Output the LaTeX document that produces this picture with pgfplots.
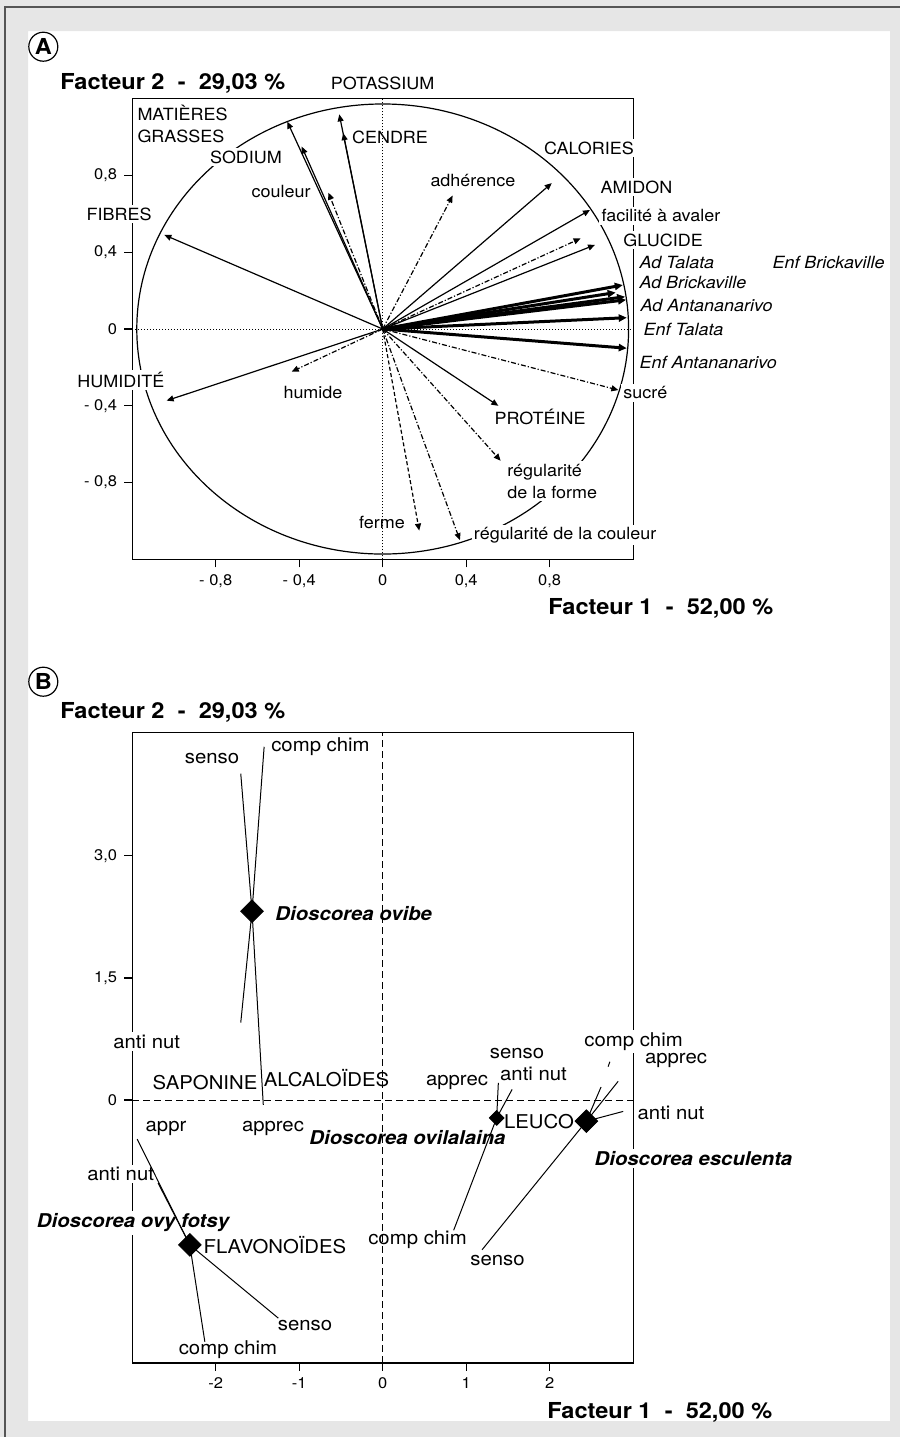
\documentclass[border=0pt]{standalone}
\usepackage{fontspec}
\setmainfont{TeX Gyre Heros}[FakeStretch=1.07]
\usepackage{pgfplots}
\pgfplotsset{compat=1.18}
\usetikzlibrary{arrows.meta}
\definecolor{bg}{HTML}{E6E6E6}
\definecolor{frame}{HTML}{555555}
\tikzset{
  labA/.style={fill=white, inner sep=1.2pt, font=\fontsize{8.4}{11}\selectfont},
  labAi/.style={labA, font=\fontsize{8.4}{11}\selectfont\itshape},
  labB/.style={fill=white, inner sep=1.2pt, font=\fontsize{9.5}{11}\selectfont},
  labBb/.style={labB, font=\fontsize{9.5}{11}\selectfont\bfseries\itshape},
  thinarr/.style={line width=0.6pt, -{Triangle[length=3.5pt,width=3pt]}},
  thickarr/.style={line width=1.5pt, -{Triangle[length=4pt,width=3.6pt]}},
  ddot/.style={thinarr, dash pattern=on 2.5pt off 1pt on 0.6pt off 1pt},
  dsh/.style={thinarr, dash pattern=on 2pt off 1.2pt},
  ttl/.style={font=\fontsize{11}{12}\selectfont\bfseries, inner sep=0pt},
}
\begin{document}
\begin{tikzpicture}
\begin{scope}[x=0.5pt,y=-0.5pt]
  \fill[bg, even odd rule] (0,0) rectangle (900,1437) (28,31) rectangle (890,1421);
  \draw[draw=frame, line width=0.8pt] (5,1437) -- (5,7) -- (900,7);
\end{scope}

% ================= Panel A =================
\begin{axis}[
  at={(66.1pt,-279.7pt)}, anchor=south west,
  scale only axis, width=250.5pt, height=230.4pt,
  xmin=-1.2, xmax=1.2, ymin=-1.2, ymax=1.2,
  set layers, clip=false,
  tick pos=left, tick align=outside, major tick length=4pt,
  axis line style={line width=0.6pt},
  every tick/.style={black, line width=0.6pt},
  xtick={-0.8,-0.4,0,0.4,0.8},
  xticklabels={{\mbox{- 0,8}},{\mbox{- 0,4}},{\mbox{0}},{\mbox{0,4}},{\mbox{0,8}}},
  ytick={-0.8,-0.4,0,0.4,0.8},
  yticklabels={{\mbox{- 0,8}},{\mbox{- 0,4}},{\mbox{0}},{\mbox{0,4}},{\mbox{0,8}}},
  tick label style={font=\fontsize{7.7}{9}\selectfont},
]
\begin{pgfonlayer}{axis grid}
  \draw[line width=0.6pt] (axis cs:0,0) ellipse [x radius=1.178, y radius=1.172];
\end{pgfonlayer}
% zero lines
\addplot[densely dotted, line width=0.5pt] coordinates {(-1.2,0) (1.2,0)};
\addplot[densely dotted, line width=0.5pt] coordinates {(0,-1.2) (0,1.2)};
% solid variables
\addplot[thinarr] coordinates {(0,0) (-1.046,0.490)};   % FIBRES
\addplot[thinarr] coordinates {(0,0) (-0.457,1.080)};   % MATIERES GRASSES
\addplot[thinarr] coordinates {(0,0) (-0.388,0.950)};   % SODIUM
\addplot[thinarr] coordinates {(0,0) (-0.189,1.020)};   % CENDRE
\addplot[thinarr] coordinates {(0,0) (-0.208,1.118)};   % POTASSIUM
\addplot[thinarr] coordinates {(0,0) (0.810,0.760)};    % CALORIES
\addplot[thinarr] coordinates {(0,0) (0.993,0.620)};    % AMIDON
\addplot[thinarr] coordinates {(0,0) (1.017,0.438)};    % GLUCIDE
\addplot[thinarr] coordinates {(0,0) (0.554,-0.400)};   % PROTEINE
\addplot[thinarr] coordinates {(0,0) (-1.035,-0.373)};  % HUMIDITE
% sensory variables
\addplot[ddot] coordinates {(0,0) (-0.260,0.710)};   % couleur
\addplot[ddot] coordinates {(0,0) (0.335,0.695)};    % adherence
\addplot[ddot] coordinates {(0,0) (0.948,0.472)};    % facilite a avaler
\addplot[ddot] coordinates {(0,0) (1.129,-0.318)};   % sucre
\addplot[ddot] coordinates {(0,0) (0.565,-0.686)};   % regularite de la forme
\addplot[ddot] coordinates {(0,0) (-0.436,-0.222)};  % humide
\addplot[dsh] coordinates {(0,0) (0.175,-1.050)};    % ferme
\addplot[ddot] coordinates {(0,0) (0.370,-1.100)};   % regularite de la couleur
% consumer groups
\addplot[thickarr] coordinates {(0,0) (1.150,0.229)};
\addplot[thickarr] coordinates {(0,0) (1.116,0.190)};
\addplot[thickarr] coordinates {(0,0) (1.161,0.168)};
\addplot[thickarr] coordinates {(0,0) (1.166,0.152)};
\addplot[thickarr] coordinates {(0,0) (1.169,0.059)};
\addplot[thickarr] coordinates {(0,0) (1.169,-0.100)};
\begin{pgfonlayer}{axis tick labels}
  \node[labA] at (axis cs:0,1.281) {POTASSIUM};
  \node[labA, anchor=west, align=left] at (axis cs:-1.188,1.068) {MATIÈRES\\GRASSES};
  \node[labA] at (axis cs:-0.655,0.896) {SODIUM};
  \node[labA] at (axis cs:0.035,1.0) {CENDRE};
  \node[labA] at (axis cs:-0.487,0.714) {couleur};
  \node[labA] at (axis cs:-1.263,0.599) {FIBRES};
  \node[labA] at (axis cs:0.432,0.771) {adhérence};
  \node[labA, anchor=west] at (axis cs:0.760,0.943) {CALORIES};
  \node[labA, anchor=west] at (axis cs:1.030,0.740) {AMIDON};
  \node[labA, anchor=west] at (axis cs:1.035,0.589) {facilité à avaler};
  \node[labA, anchor=west] at (axis cs:1.140,0.464) {GLUCIDE};
  \node[labAi, anchor=west] at (axis cs:1.217,0.349) {Ad Talata};
  \node[labAi, anchor=west] at (axis cs:1.854,0.349) {Enf Brickaville};
  \node[labAi, anchor=west] at (axis cs:1.217,0.240) {Ad Brickaville};
  \node[labAi, anchor=west] at (axis cs:1.222,0.125) {Ad Antananarivo};
  \node[labAi, anchor=west] at (axis cs:1.236,-0.005) {Enf Talata};
  \node[labAi, anchor=west] at (axis cs:1.217,-0.172) {Enf Antananarivo};
  \node[labA, anchor=west] at (axis cs:1.140,-0.333) {sucré};
  \node[labA] at (axis cs:0.754,-0.458) {PROTÉINE};
  \node[labA, anchor=west, align=left] at (axis cs:0.584,-0.792) {régularité\\de la forme};
  \node[labA] at (axis cs:0.874,-1.073) {régularité de la couleur};
  \node[labA] at (axis cs:-0.003,-1.010) {ferme};
  \node[labA] at (axis cs:-0.334,-0.333) {humide};
  \node[labA] at (axis cs:-1.254,-0.266) {HUMIDITÉ};
\end{pgfonlayer}
\end{axis}

% ================= Panel B =================
\begin{axis}[
  at={(66.1pt,-681.45pt)}, anchor=south west,
  scale only axis, width=250.5pt, height=315.4pt,
  xmin=-3, xmax=3, ymin=-3.23, ymax=4.52,
  set layers, clip=false,
  tick pos=left, tick align=outside, major tick length=4pt,
  axis line style={line width=0.6pt},
  every tick/.style={black, line width=0.6pt},
  xtick={-2,-1,0,1,2},
  xticklabels={{\mbox{-2}},{\mbox{-1}},{\mbox{0}},{\mbox{1}},{\mbox{2}}},
  ytick={0,1.5,3},
  yticklabels={{\mbox{0}},{\mbox{1,5}},{\mbox{3,0}}},
  tick label style={font=\fontsize{7.7}{9}\selectfont},
]
\addplot[line width=0.5pt, dash pattern=on 3.5pt off 2pt] coordinates {(-3,0) (3,0)};
\addplot[line width=0.5pt, dash pattern=on 3.5pt off 2pt] coordinates {(0,-3.23) (0,4.52)};
% Dioscorea ovibe
\addplot[line width=0.5pt] coordinates {(-1.565,2.32) (-1.70,4.01)};
\addplot[line width=0.5pt] coordinates {(-1.565,2.32) (-1.42,4.34)};
\addplot[line width=0.5pt] coordinates {(-1.565,2.32) (-1.70,0.95)};
\addplot[line width=0.5pt] coordinates {(-1.565,2.32) (-1.43,-0.06)};
% Dioscorea ovy fotsy
\addplot[line width=0.5pt] coordinates {(-2.31,-1.78) (-2.94,-0.48)};
\addplot[line width=0.5pt] coordinates {(-2.31,-1.78) (-2.69,-1.02)};
\addplot[line width=0.5pt] coordinates {(-2.31,-1.78) (-1.25,-2.68)};
\addplot[line width=0.5pt] coordinates {(-2.31,-1.78) (-2.13,-2.97)};
% Dioscorea ovilalaina
\addplot[line width=0.5pt] coordinates {(1.365,-0.22) (1.385,0.21)};
\addplot[line width=0.5pt] coordinates {(1.365,-0.22) (1.55,0.13)};
\addplot[line width=0.5pt] coordinates {(1.365,-0.22) (0.85,-1.60)};
% Dioscorea esculenta
\addplot[line width=0.5pt] coordinates {(2.72,0.47) (2.70,0.41)};
\addplot[line width=0.5pt] coordinates {(2.615,0.16) (2.44,-0.26)};
\addplot[line width=0.5pt] coordinates {(2.44,-0.26) (2.82,0.23)};
\addplot[line width=0.5pt] coordinates {(2.44,-0.26) (2.88,-0.14)};
\addplot[line width=0.5pt] coordinates {(2.44,-0.26) (1.19,-1.84)};
% centroids
\addplot[only marks, mark=square*, mark size=4pt, mark options={rotate=45, fill=black, draw=black}]
  coordinates {(-1.565,2.32) (-2.31,-1.78) (2.44,-0.26)};
\addplot[only marks, mark=square*, mark size=2.6pt, mark options={rotate=45, fill=black, draw=black}]
  coordinates {(1.365,-0.22)};
\begin{pgfonlayer}{axis tick labels}
  \node[labB] at (axis cs:-2.044,4.201) {senso};
  \node[labB] at (axis cs:-0.745,4.337) {comp chim};
  \node[labBb, anchor=west] at (axis cs:-1.318,2.297) {Dioscorea ovibe};
  \node[labB] at (axis cs:-2.826,0.716) {anti nut};
  \node[labB] at (axis cs:-1.314,-0.344) {apprec};
  \node[labB] at (axis cs:-2.128,0.209) {SAPONINE};
  \node[labB] at (axis cs:-0.673,0.270) {ALCALOÏDES};
  \node[labB] at (axis cs:-2.595,-0.344) {appr};
  \node[labB] at (axis cs:-3.138,-0.909) {anti nut};
  \node[labBb] at (axis cs:-2.990,-1.511) {Dioscorea ovy fotsy};
  \node[labB] at (axis cs:-1.290,-1.781) {FLAVONOÏDES};
  \node[labB] at (axis cs:-0.931,-2.776) {senso};
  \node[labB] at (axis cs:-1.853,-3.063) {comp chim};
  \node[labB] at (axis cs:1.608,0.574) {senso};
  \node[labB] at (axis cs:1.806,0.319) {anti nut};
  \node[labB] at (axis cs:0.890,0.221) {apprec};
  \node[labB] at (axis cs:1.872,-0.270) {LEUCO};
  \node[labBb] at (axis cs:0.297,-0.467) {Dioscorea ovilalaina};
  \node[labB] at (axis cs:0.417,-1.720) {comp chim};
  \node[labB] at (axis cs:3.004,0.715) {comp chim};
  \node[labB] at (axis cs:3.513,0.490) {apprec};
  \node[labB] at (axis cs:3.453,-0.160) {anti nut};
  \node[labBb] at (axis cs:3.722,-0.713) {Dioscorea esculenta};
  \node[labB] at (axis cs:1.375,-1.978) {senso};
\end{pgfonlayer}
\end{axis}

% ================= titles =================
\begin{scope}[x=0.5pt,y=-0.5pt]
  \node[ttl, anchor=west] at (60,83) {Facteur 2\hspace{0.6em}-\hspace{0.6em}29,03 \%};
  \node[ttl, anchor=west] at (548,608) {Facteur 1\hspace{0.6em}-\hspace{0.6em}52,00 \%};
  \node[ttl, anchor=west] at (60,712) {Facteur 2\hspace{0.6em}-\hspace{0.6em}29,03 \%};
  \node[ttl, anchor=west] at (547,1412) {Facteur 1\hspace{0.6em}-\hspace{0.6em}52,00 \%};
  \node[circle, draw, line width=0.6pt, minimum size=14.5pt, inner sep=0pt,
        font=\fontsize{11}{11}\selectfont\bfseries] at (43.3,46.7) {A};
  \node[circle, draw, line width=0.6pt, minimum size=14.5pt, inner sep=0pt,
        font=\fontsize{11}{11}\selectfont\bfseries] at (43.3,681.7) {B};
\end{scope}
\pgfresetboundingbox
\path[use as bounding box] (0,0) rectangle (450pt,-718.5pt);
\end{tikzpicture}
\end{document}
